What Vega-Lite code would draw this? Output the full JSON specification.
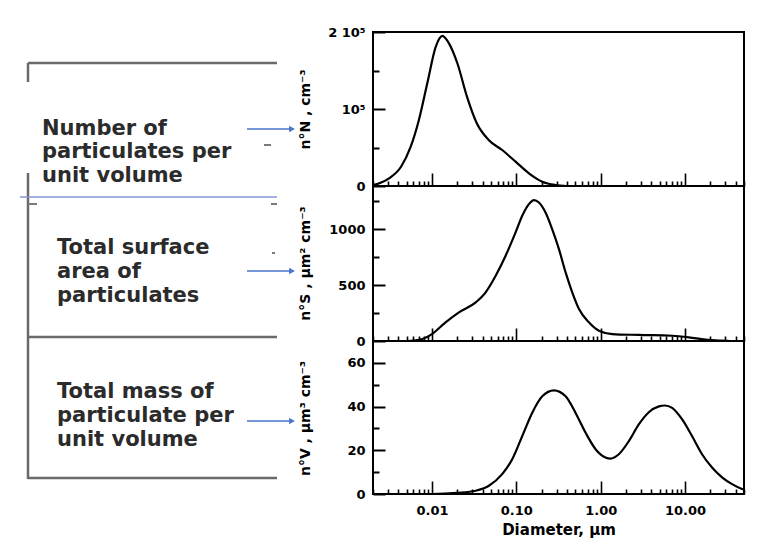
{
  "$schema": "https://vega.github.io/schema/vega-lite/v6.json",
  "background": "white",
  "padding": {"left": 0, "top": 25, "right": 0, "bottom": 0},
  "config": {
    "view": {"stroke": "#000", "strokeWidth": 2},
    "axis": {
      "domain": false, "grid": false, "tickColor": "#000", "tickWidth": 2,
      "labelColor": "#000", "titleColor": "#000",
      "labelFont": "DejaVu Sans", "titleFont": "DejaVu Sans",
      "labelFontWeight": "bold", "titleFontWeight": "bold",
      "labelFontSize": 13, "titleFontSize": 14,
      "labelOverlap": false, "labelFlush": false
    }
  },
  "datasets": {
    "number": [
      {"d": 0.002, "n": 1000}, {"d": 0.0025, "n": 4500}, {"d": 0.0031, "n": 10000},
      {"d": 0.0043, "n": 25000}, {"d": 0.0056, "n": 51000}, {"d": 0.007, "n": 85700},
      {"d": 0.0088, "n": 133400}, {"d": 0.0111, "n": 181000}, {"d": 0.0133, "n": 195000},
      {"d": 0.0159, "n": 185300}, {"d": 0.02, "n": 159400}, {"d": 0.026, "n": 116000},
      {"d": 0.034, "n": 81400}, {"d": 0.047, "n": 59700}, {"d": 0.068, "n": 46750},
      {"d": 0.098, "n": 31600}, {"d": 0.141, "n": 16500}, {"d": 0.203, "n": 5600},
      {"d": 0.29, "n": 1300}, {"d": 0.4, "n": 0}
    ],
    "surface": [
      {"d": 0.002, "s": 0}, {"d": 0.005, "s": 0}, {"d": 0.0064, "s": 5}, {"d": 0.0077, "s": 18},
      {"d": 0.01, "s": 62}, {"d": 0.0145, "s": 167}, {"d": 0.0209, "s": 256}, {"d": 0.033, "s": 345},
      {"d": 0.0433, "s": 435}, {"d": 0.0569, "s": 583}, {"d": 0.0747, "s": 762}, {"d": 0.098, "s": 970},
      {"d": 0.1175, "s": 1119}, {"d": 0.141, "s": 1223}, {"d": 0.162, "s": 1259}, {"d": 0.185, "s": 1238},
      {"d": 0.222, "s": 1149}, {"d": 0.266, "s": 1000}, {"d": 0.32, "s": 821}, {"d": 0.384, "s": 613},
      {"d": 0.46, "s": 435}, {"d": 0.553, "s": 286}, {"d": 0.724, "s": 167}, {"d": 0.953, "s": 92},
      {"d": 1.37, "s": 62}, {"d": 2.83, "s": 54}, {"d": 7.03, "s": 47}, {"d": 11.1, "s": 33},
      {"d": 17.5, "s": 12}, {"d": 27.5, "s": 3}, {"d": 35, "s": 0}
    ],
    "volume": [
      {"d": 0.002, "v": 0}, {"d": 0.01, "v": 0}, {"d": 0.02, "v": 0.5}, {"d": 0.033, "v": 1.5},
      {"d": 0.0473, "v": 3.8}, {"d": 0.068, "v": 9.1}, {"d": 0.0894, "v": 15.9}, {"d": 0.1175, "v": 26.5},
      {"d": 0.154, "v": 37.1}, {"d": 0.203, "v": 44.7}, {"d": 0.279, "v": 47.4}, {"d": 0.384, "v": 44.7},
      {"d": 0.504, "v": 37.1}, {"d": 0.663, "v": 28}, {"d": 0.87, "v": 20.5}, {"d": 1.14, "v": 16.7},
      {"d": 1.31, "v": 16.2}, {"d": 1.64, "v": 18.2}, {"d": 2.16, "v": 24.2}, {"d": 2.83, "v": 31.8},
      {"d": 3.72, "v": 37.4}, {"d": 4.9, "v": 40.1}, {"d": 5.77, "v": 40.5}, {"d": 7.03, "v": 39.4},
      {"d": 9.25, "v": 34.1}, {"d": 12.1, "v": 26.5}, {"d": 15.9, "v": 18.2}, {"d": 20.9, "v": 12.1},
      {"d": 27.5, "v": 7.6}, {"d": 36.1, "v": 4.5}, {"d": 47.4, "v": 2.3}, {"d": 50, "v": 2.0}
    ],
    "frame": [
      {"x": 28, "y": 63, "x2": 277, "y2": 63}, {"x": 28, "y": 63, "x2": 28, "y2": 82},
      {"x": 28, "y": 173, "x2": 28, "y2": 479}, {"x": 28, "y": 337, "x2": 277, "y2": 337},
      {"x": 28, "y": 478, "x2": 277, "y2": 478}
    ],
    "dashes": [
      {"x": 264, "y": 145, "x2": 271, "y2": 145}, {"x": 28, "y": 204, "x2": 37, "y2": 204},
      {"x": 271, "y": 204, "x2": 277, "y2": 204}, {"x": 272, "y": 253, "x2": 275, "y2": 253}
    ],
    "blueline": [{"x": 20, "y": 197, "x2": 277, "y2": 197}],
    "arrows": [
      {"x": 247, "y": 129, "x2": 290, "y2": 129, "hx": 292},
      {"x": 247, "y": 271, "x2": 290, "y2": 271, "hx": 292},
      {"x": 247, "y": 421, "x2": 290, "y2": 421, "hx": 292}
    ],
    "labels": [
      {"x": 42, "y": 135, "t": "Number of"}, {"x": 42, "y": 158, "t": "particulates per"},
      {"x": 42, "y": 181.5, "t": "unit volume"},
      {"x": 57, "y": 254, "t": "Total surface"}, {"x": 57, "y": 278, "t": "area of"},
      {"x": 57, "y": 301.5, "t": "particulates"},
      {"x": 57, "y": 398, "t": "Total mass of"}, {"x": 57, "y": 421.5, "t": "particulate per"},
      {"x": 57, "y": 446, "t": "unit volume"}
    ]
  },
  "spacing": 1,
  "hconcat": [
    {
      "width": 290, "height": 500,
      "view": {"stroke": null},
      "layer": [
        {
          "data": {"name": "frame"},
          "mark": {"type": "rule", "color": "#6a6a6a", "strokeWidth": 2.5},
          "encoding": {
            "x": {"field": "x", "type": "quantitative", "scale": {"domain": [0, 290], "nice": false, "zero": false}, "axis": null},
            "x2": {"field": "x2"},
            "y": {"field": "y", "type": "quantitative", "scale": {"domain": [32, 532], "reverse": true, "nice": false, "zero": false}, "axis": null},
            "y2": {"field": "y2"}
          }
        },
        {
          "data": {"name": "dashes"},
          "mark": {"type": "rule", "color": "#7a7a7a", "strokeWidth": 2},
          "encoding": {
            "x": {"field": "x", "type": "quantitative"}, "x2": {"field": "x2"},
            "y": {"field": "y", "type": "quantitative"}, "y2": {"field": "y2"}
          }
        },
        {
          "data": {"name": "blueline"},
          "mark": {"type": "rule", "color": "#8796d6", "strokeWidth": 1.3},
          "encoding": {
            "x": {"field": "x", "type": "quantitative"}, "x2": {"field": "x2"},
            "y": {"field": "y", "type": "quantitative"}, "y2": {"field": "y2"}
          }
        },
        {
          "data": {"name": "arrows"},
          "mark": {"type": "rule", "color": "#4a74c9", "strokeWidth": 1.3},
          "encoding": {
            "x": {"field": "x", "type": "quantitative"}, "x2": {"field": "x2"},
            "y": {"field": "y", "type": "quantitative"}, "y2": {"field": "y2"}
          }
        },
        {
          "data": {"name": "arrows"},
          "mark": {"type": "point", "shape": "triangle-right", "filled": true, "size": 45, "color": "#4a74c9", "opacity": 1},
          "encoding": {
            "x": {"field": "hx", "type": "quantitative"},
            "y": {"field": "y", "type": "quantitative"}
          }
        },
        {
          "data": {"name": "labels"},
          "mark": {"type": "text", "align": "left", "baseline": "alphabetic", "font": "DejaVu Sans", "fontWeight": "bold", "fontSize": 21, "color": "#2b2b2b"},
          "encoding": {
            "x": {"field": "x", "type": "quantitative"},
            "y": {"field": "y", "type": "quantitative"},
            "text": {"field": "t"}
          }
        }
      ]
    },
    {
      "spacing": 0,
      "bounds": "flush",
      "resolve": {"scale": {"x": "independent", "y": "independent"}},
      "vconcat": [
        {
          "width": 371, "height": 154,
          "data": {"name": "number"},
          "mark": {"type": "line", "color": "#000", "strokeWidth": 2.2, "interpolate": "monotone", "clip": true},
          "encoding": {
            "x": {"field": "d", "type": "quantitative", "scale": {"type": "log", "domain": [0.002, 50], "nice": false},
              "axis": {"title": null, "labels": false,
                "values": [0.002,0.003,0.004,0.005,0.006,0.007,0.008,0.009,0.01,0.02,0.03,0.04,0.05,0.06,0.07,0.08,0.09,0.1,0.2,0.3,0.4,0.5,0.6,0.7,0.8,0.9,1,2,3,4,5,6,7,8,9,10,20,30,40,50],
                "tickWidth": 1.6,
                "tickSize": {"condition": {"test": "indexof([0.01,0.1,1,10], datum.value) >= 0", "value": -13}, "value": -5}}},
            "y": {"field": "n", "type": "quantitative", "scale": {"domain": [0, 200000], "nice": false},
              "axis": {"title": "n°N , cm⁻³", "titleX": -68, "titleY": 77, "titleAngle": -90, "titleAlign": "center", "titleBaseline": "middle",
                "values": [0, 50000, 100000, 150000, 200000],
                "labelExpr": "datum.value == 0 ? '0' : datum.value == 100000 ? '10⁵' : datum.value == 200000 ? '2 10⁵' : ''",
                "labelPadding": 20,
                "tickSize": {"condition": {"test": "datum.value % 100000 == 0", "value": -12}, "value": -6}}}
          }
        },
        {
          "width": 371, "height": 155,
          "data": {"name": "surface"},
          "mark": {"type": "line", "color": "#000", "strokeWidth": 2.2, "interpolate": "monotone", "clip": true},
          "encoding": {
            "x": {"field": "d", "type": "quantitative", "scale": {"type": "log", "domain": [0.002, 50], "nice": false},
              "axis": {"title": null, "labels": false,
                "values": [0.002,0.003,0.004,0.005,0.006,0.007,0.008,0.009,0.01,0.02,0.03,0.04,0.05,0.06,0.07,0.08,0.09,0.1,0.2,0.3,0.4,0.5,0.6,0.7,0.8,0.9,1,2,3,4,5,6,7,8,9,10,20,30,40,50],
                "tickWidth": 1.6,
                "tickSize": {"condition": {"test": "indexof([0.01,0.1,1,10], datum.value) >= 0", "value": -13}, "value": -5}}},
            "y": {"field": "s", "type": "quantitative", "scale": {"domain": [0, 1385], "nice": false},
              "axis": {"title": "n°S , µm² cm⁻³", "titleX": -68, "titleY": 77, "titleAngle": -90, "titleAlign": "center", "titleBaseline": "middle",
                "values": [0, 250, 500, 750, 1000, 1250],
                "labelExpr": "datum.value % 500 == 0 ? format(datum.value, 'd') : ''",
                "labelPadding": 20,
                "tickSize": {"condition": {"test": "datum.value % 500 == 0", "value": -12}, "value": -6}}}
          }
        },
        {
          "width": 371, "height": 153,
          "data": {"name": "volume"},
          "mark": {"type": "line", "color": "#000", "strokeWidth": 2.2, "interpolate": "monotone", "clip": true},
          "encoding": {
            "x": {"field": "d", "type": "quantitative", "scale": {"type": "log", "domain": [0.002, 50], "nice": false},
              "axis": {"title": "Diameter, µm", "titleFontSize": 15, "titlePadding": -3,
                "values": [0.002,0.003,0.004,0.005,0.006,0.007,0.008,0.009,0.01,0.02,0.03,0.04,0.05,0.06,0.07,0.08,0.09,0.1,0.2,0.3,0.4,0.5,0.6,0.7,0.8,0.9,1,2,3,4,5,6,7,8,9,10,20,30,40,50],
                "labelExpr": "indexof([0.01,0.1,1,10], datum.value) >= 0 ? format(datum.value, '.2f') : ''",
                "labelPadding": 23,
                "tickWidth": 1.6,
                "tickSize": {"condition": {"test": "indexof([0.01,0.1,1,10], datum.value) >= 0", "value": -13}, "value": -5}}},
            "y": {"field": "v", "type": "quantitative", "scale": {"domain": [0, 70], "nice": false},
              "axis": {"title": "n°V , µm³ cm⁻³", "titleX": -68, "titleY": 77, "titleAngle": -90, "titleAlign": "center", "titleBaseline": "middle",
                "values": [0, 10, 20, 30, 40, 50, 60],
                "labelExpr": "datum.value % 20 == 0 ? format(datum.value, 'd') : ''",
                "labelPadding": 20,
                "tickSize": {"condition": {"test": "datum.value % 20 == 0", "value": -12}, "value": -6}}}
          }
        }
      ]
    }
  ]
}
